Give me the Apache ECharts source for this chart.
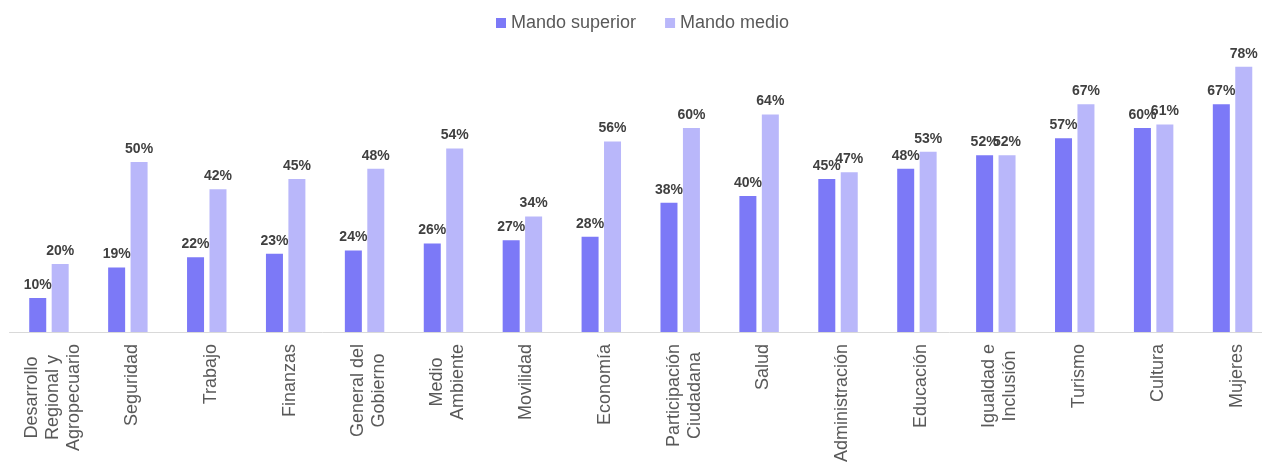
<!DOCTYPE html>
<html>
<head>
<meta charset="utf-8">
<script src="https://cdn.jsdelivr.net/npm/echarts@6/dist/echarts.min.js"></script>
<style>
  html, body { margin: 0; padding: 0; background: #ffffff; }
  #chart { width: 1262px; height: 466px; }
</style>
</head>
<body>
<div id="chart"></div>
<script>
// Dependencias (categorías del eje X; "\n" separa renglones de la etiqueta)
const categories = [
  'Desarrollo\nRegional y\nAgropecuario',
  'Seguridad',
  'Trabajo',
  'Finanzas',
  'General del\nGobierno',
  'Medio\nAmbiente',
  'Movilidad',
  'Economía',
  'Participación\nCiudadana',
  'Salud',
  'Administración',
  'Educación',
  'Igualdad e\nInclusión',
  'Turismo',
  'Cultura',
  'Mujeres'
];

const seriesNames = ['Mando superior', 'Mando medio'];

// Porcentaje por dependencia
const mandoSuperior = [10, 19, 22, 23, 24, 26, 27, 28, 38, 40, 45, 48, 52, 57, 60, 67];
const mandoMedio    = [20, 50, 42, 45, 48, 54, 34, 56, 60, 64, 47, 53, 52, 67, 61, 78];

const colors = ['#7c79f7', '#b9b7fa'];
const FONT = '"Liberation Sans", Arial, sans-serif';

const chart = echarts.init(document.getElementById('chart'), null, { renderer: 'canvas' });

const valueLabel = {
  show: true,
  position: 'top',
  distance: 6,
  formatter: '{c}%',
  fontFamily: FONT,
  fontSize: 14,
  fontWeight: 'bold',
  color: '#404040'
};

chart.setOption({
  animation: false,
  backgroundColor: '#ffffff',
  color: colors,
  legend: {
    data: seriesNames,
    top: 9,
    left: 491,
    icon: 'rect',
    itemWidth: 10,
    itemHeight: 10,
    itemGap: 29,
    textStyle: { fontFamily: FONT, fontSize: 18, color: '#595959' }
  },
  // the plot runs slightly past the right edge so the last group sits at the border
  grid: {
    left: 9.5,
    right: -10,
    top: 60,
    bottom: 134,
    containLabel: false,
    outerBoundsMode: 'none'
  },
  xAxis: {
    type: 'category',
    data: categories,
    axisLine: { lineStyle: { color: '#d9d9d9', width: 1 } },
    axisTick: { show: false },
    axisLabel: {
      interval: 0,
      rotate: 90,
      margin: 12,
      padding: [8, 0, 0, 0],
      formatter: function (v) {
        return v.split('\n').map(function (s) { return '{c|' + s + '}'; }).join('\n');
      },
      rich: {
        c: {
          align: 'center',
          fontFamily: FONT,
          fontSize: 18,
          lineHeight: 21,
          color: '#595959'
        }
      }
    }
  },
  yAxis: {
    type: 'value',
    min: 0,
    max: 80,
    show: false,
    splitLine: { show: false }
  },
  series: [
    {
      name: seriesNames[0],
      type: 'bar',
      data: mandoSuperior,
      barWidth: 17,
      barGap: '32%',
      label: valueLabel
    },
    {
      name: seriesNames[1],
      type: 'bar',
      data: mandoMedio,
      barWidth: 17,
      barGap: '32%',
      label: valueLabel
    }
  ]
});
</script>
</body>
</html>
